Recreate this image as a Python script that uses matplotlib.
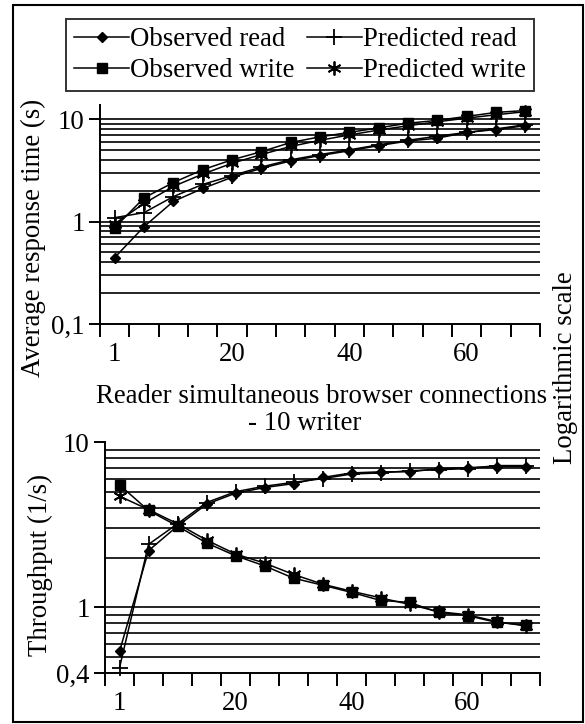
from __future__ import annotations

import matplotlib

matplotlib.use("Agg")
import matplotlib.pyplot as plt
from matplotlib.patches import Rectangle
from matplotlib.ticker import FixedLocator, NullFormatter


# reader connections (categories of the x axis)
connections = [1, 5, 10, 15, 20, 25, 30, 35, 40, 45, 50, 55, 60, 65, 70]
label_every = 4

# average response time (s)
rt_observed_read = [0.445, 0.89, 1.57, 2.1, 2.7, 3.3, 3.9, 4.4, 4.9, 5.5, 6.1, 6.5, 7.4, 7.9, 8.6]
rt_predicted_read = [1.09, 1.22, 1.75, 2.3, 2.8, 3.4, 4.0, 4.5, 5.0, 5.6, 6.2, 6.8, 7.4, 8.0, 8.8]
rt_observed_write = [0.87, 1.7, 2.4, 3.2, 4.0, 4.8, 5.9, 6.7, 7.4, 8.2, 9.1, 9.7, 10.6, 11.6, 12.1]
rt_predicted_write = [0.95, 1.5, 2.2, 2.9, 3.7, 4.5, 5.4, 6.2, 7.0, 7.8, 8.6, 9.4, 10.2, 11.0, 11.8]

# throughput (1/s)
tp_observed_read = [0.54, 2.2, 3.1, 4.2, 4.9, 5.3, 5.6, 6.1, 6.5, 6.6, 6.6, 6.9, 7.0, 7.1, 7.1]
tp_predicted_read = [0.43, 2.4, 3.2, 4.3, 5.0, 5.4, 5.7, 6.0, 6.4, 6.5, 6.7, 6.8, 6.9, 7.2, 7.2]
tp_observed_write = [5.5, 3.85, 3.1, 2.45, 2.05, 1.78, 1.5, 1.36, 1.23, 1.1, 1.07, 0.93, 0.89, 0.81, 0.78]
tp_predicted_write = [4.7, 3.9, 3.2, 2.55, 2.1, 1.85, 1.58, 1.38, 1.25, 1.14, 1.04, 0.94, 0.9, 0.82, 0.77]

series_names = ["Observed read", "Predicted read", "Observed write", "Predicted write"]

top_yticks = [0.1, 1, 10]
top_yticklabels = ["0,1", "1", "10"]
bottom_yticks = [0.4, 1, 10]
bottom_yticklabels = ["0,4", "1", "10"]

W, H = 585, 724
FONT = "Liberation Serif"
FS = 19.3

styles = {
    "Observed read": dict(marker="D", markersize=5.5, markerfacecolor="black"),
    "Predicted read": dict(marker="+", markersize=11, markeredgewidth=1.3),
    "Observed write": dict(marker="s", markersize=6.5, markerfacecolor="black"),
    "Predicted write": dict(marker=(6, 2, 0), markersize=10, markeredgewidth=1.3),
}


def fx(px):
    return px / W


def fy(py):
    return 1 - py / H


def style_axis(ax, ylim, yticks, yticklabels, minor_grid):
    n = len(connections)
    ax.set_yscale("log")
    ax.set_xlim(-0.5, n - 0.5)
    ax.set_ylim(*ylim)
    for side in ["top", "right"]:
        ax.spines[side].set_visible(False)
    for side in ["left", "bottom"]:
        ax.spines[side].set_linewidth(1.4)

    # tick marks on category borders, labels in the middle of categories
    ax.xaxis.set_major_locator(FixedLocator([i - 0.5 for i in range(n + 1)]))
    ax.xaxis.set_major_formatter(NullFormatter())
    label_pos = list(range(0, n, label_every))
    ax.xaxis.set_minor_locator(FixedLocator(label_pos))
    ax.set_xticklabels([str(connections[i]) for i in label_pos], minor=True)
    ax.tick_params(axis="x", which="major", direction="out", length=9, width=1.4, color="black")
    ax.tick_params(axis="x", which="minor", length=0, pad=13, labelsize=FS)

    ax.yaxis.set_major_locator(FixedLocator(yticks))
    ax.set_yticklabels(yticklabels)
    ax.yaxis.set_minor_locator(FixedLocator(minor_grid))
    ax.yaxis.set_minor_formatter(NullFormatter())
    ax.tick_params(axis="y", which="major", direction="out", length=8, width=1.4, pad=3, labelsize=FS)
    ax.tick_params(axis="y", which="minor", length=0)

    ax.grid(True, axis="y", which="both", color="black", linewidth=1.2)
    for label in ax.get_xticklabels(minor=True) + ax.get_yticklabels():
        label.set_fontfamily(FONT)
    ax.set_axisbelow(True)


def plot_series(ax, values):
    for name, ys in zip(series_names, values):
        ax.plot(range(len(connections)), ys, color="black", linewidth=1.1,
                markeredgecolor="black", label=name, clip_on=False, **styles[name])


def main() -> None:
    plt.rcParams["font.family"] = [FONT, "DejaVu Serif"]
    fig = plt.figure(figsize=(W / 100, H / 100), dpi=100)

    minor_top = [v * 10 ** k for k in (-1, 0) for v in range(2, 10)]
    minor_bottom = [0.5, 0.6, 0.7, 0.8, 0.9] + list(range(2, 10))

    ax_top = fig.add_axes([fx(100), fy(324), fx(540) - fx(100), fy(105) - fy(324)])
    plot_series(ax_top, [rt_observed_read, rt_predicted_read, rt_observed_write, rt_predicted_write])
    style_axis(ax_top, (0.1, 13.7), top_yticks, top_yticklabels, minor_top)
    ax_top.yaxis.get_major_ticks()[0].gridline.set_visible(False)

    ax_bot = fig.add_axes([fx(105), fy(673), fx(540) - fx(105), fy(442) - fy(673)])
    plot_series(ax_bot, [tp_observed_read, tp_predicted_read, tp_observed_write, tp_predicted_write])
    style_axis(ax_bot, (0.4, 10), bottom_yticks, bottom_yticklabels, minor_bottom)
    ax_bot.yaxis.get_major_ticks()[0].gridline.set_visible(False)
    ax_bot.yaxis.get_major_ticks()[2].gridline.set_visible(False)

    handles, labels = ax_top.get_legend_handles_labels()
    order = [0, 2, 1, 3]
    leg = fig.legend([handles[i] for i in order], [labels[i] for i in order], ncol=2,
                     loc="center", bbox_to_anchor=(fx(300), fy(55)),
                     prop={"family": FONT, "size": FS}, frameon=True, fancybox=False,
                     edgecolor="black", handlelength=2.05, handletextpad=0.05,
                     columnspacing=0.45, labelspacing=0.22, borderpad=0.3,
                     borderaxespad=0)
    leg.get_frame().set_linewidth(1.4)

    fig.text(fx(33), fy(238), "Average response time (s)", rotation=90,
             ha="center", va="center", fontsize=FS)
    fig.text(fx(40), fy(565), "Throughput (1/s)", rotation=90,
             ha="center", va="center", fontsize=FS)
    fig.text(fx(565), fy(368), "Logarithmic scale", rotation=90,
             ha="center", va="center", fontsize=FS)
    fig.text(fx(322), fy(403), "Reader simultaneous browser connections",
             ha="center", va="baseline", fontsize=FS)
    fig.text(fx(305), fy(430), "- 10 writer", ha="center", va="baseline", fontsize=FS)

    fig.add_artist(Rectangle((fx(13), fy(722)), fx(583) - fx(13), fy(5) - fy(722),
                             transform=fig.transFigure, fill=False,
                             edgecolor="black", linewidth=1.5))

    fig.savefig("out.png", dpi=100)
    plt.close(fig)


if __name__ == "__main__":
    main()
